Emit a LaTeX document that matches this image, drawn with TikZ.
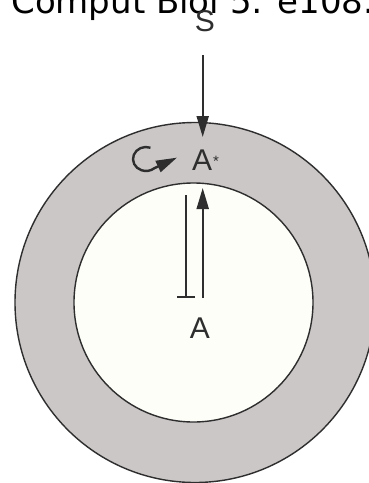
\documentclass[tikz,border=0pt]{standalone}
\usepackage{fontspec}
\usetikzlibrary{arrows.meta}
\newfontfamily\titlefont{DejaVu Sans}
\newfontfamily\labfont{Liberation Sans}
\definecolor{ink}{HTML}{2E2E2E}
\definecolor{ringgray}{HTML}{CBC7C6}
\definecolor{cellwhite}{HTML}{FDFEF8}
\tikzset{
  lab/.style={inner sep=0pt, text=ink, font=\labfont\fontsize{30}{30}\selectfont},
  edgeline/.style={draw=ink, line width=1.4pt},
  conn/.style={draw=ink, line width=2pt},
  tip/.style={-{Triangle[length=21pt,width=12pt]}},
  blocktip/.style={{Bar[width=18pt,line width=2pt]}-},
}
\begin{document}
\begin{tikzpicture}[x=1pt,y=1pt]
\clip (0,0) rectangle (369,-483);
\fill[white] (0,0) rectangle (369,-483);
% title fragment
\node[inner sep=0pt, anchor=base west, font=\titlefont\fontsize{34}{40}\selectfont] (title) at (11.1,-13) {Comput Biol 5: e108.};
% compartments
\path[edgeline, fill=ringgray] (195,-302.5) circle[radius=180pt];
\path[edgeline, fill=cellwhite] (193.5,-302.5) circle[radius=119.5pt];
% labels
\node[lab, anchor=base] (S) at (205,-31.5) {S};
\node[lab, anchor=base west] (Astar) at (192,-170) {A\kern1pt\raisebox{4pt}{\fontsize{15}{15}\selectfont *}};
\node[lab, anchor=base] (A) at (200,-338) {A};
% connector end points
\coordinate (s1) at (202.7,-55);
\coordinate (s2) at (202.7,-137);
\coordinate (u1) at (202.7,-298);
\coordinate (u2) at (202.7,-188);
\coordinate (b1) at (186,-298);
\coordinate (b2) at (186,-195);
\coordinate (c1) at (150.45,-147.72);
% connectors
\draw[conn, tip] (s1) -- (s2);
\draw[conn, tip] (u1) -- (u2);
\draw[conn, blocktip] (b1) -- (b2);
\draw[conn, line width=2.4pt, tip] (c1) arc[start angle=70, end angle=310, x radius=13pt, y radius=12pt] -- ++(25:25pt);
\end{tikzpicture}
\end{document}
